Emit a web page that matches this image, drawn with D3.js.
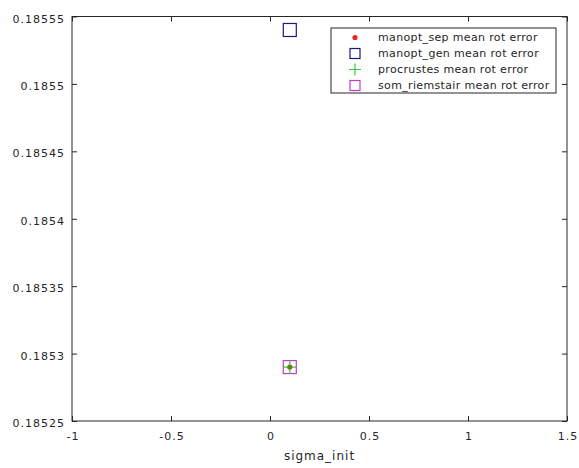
<!DOCTYPE html>
<html>
<head>
<meta charset="utf-8">
<script src="https://cdn.jsdelivr.net/npm/d3@7"></script>
<style>
  html, body { margin: 0; padding: 0; background: #fff; }
  text { font-family: "DejaVu Sans", sans-serif; fill: #262626; }
</style>
</head>
<body>
<svg id="chart" width="579" height="468"></svg>
<script>
// Mean rotation error per method at sigma_init
const sigmaInit = [0.1];
const manoptSep = [0.18529];
const manoptGen = [0.18554];
const procrustes = [0.18529];
const somRiemstair = [0.18529];

const xTicks = [-1, -0.5, 0, 0.5, 1, 1.5];
const yTicks = [0.18525, 0.1853, 0.18535, 0.1854, 0.18545, 0.1855, 0.18555];

const legendLabels = [
  "manopt_sep mean rot error",
  "manopt_gen mean rot error",
  "procrustes mean rot error",
  "som_riemstair mean rot error"
];

const svg = d3.select("#chart");
const m = { left: 72, right: 12, top: 16.5, bottom: 47 };
const W = 579, H = 468;
const x = d3.scaleLinear().domain([-1, 1.5]).range([m.left, W - m.right]);
const y = d3.scaleLinear().domain([0.18525, 0.18555]).range([H - m.bottom, m.top]);

const axisColor = "#262626";
const tickLen = 5;
const fmt = d => String(d);

// frame
svg.append("rect")
  .attr("x", x(-1)).attr("y", y(0.18555))
  .attr("width", x(1.5) - x(-1)).attr("height", y(0.18525) - y(0.18555))
  .attr("fill", "none").attr("stroke", axisColor).attr("stroke-width", 1);

// axes with inward ticks on all four sides
const xAxis = svg.append("g").attr("transform", `translate(0,${y(0.18525)})`)
  .call(d3.axisBottom(x).tickValues(xTicks).tickSize(-tickLen).tickPadding(11).tickFormat(fmt));
const xAxisTop = svg.append("g").attr("transform", `translate(0,${y(0.18555)})`)
  .call(d3.axisTop(x).tickValues(xTicks).tickSize(-tickLen).tickFormat(""));
const yAxis = svg.append("g").attr("transform", `translate(${x(-1)},0)`)
  .call(d3.axisLeft(y).tickValues(yTicks).tickSize(-tickLen).tickPadding(7).tickFormat(fmt));
const yAxisRight = svg.append("g").attr("transform", `translate(${x(1.5)},0)`)
  .call(d3.axisRight(y).tickValues(yTicks).tickSize(-tickLen).tickFormat(""));

[xAxis, xAxisTop, yAxis, yAxisRight].forEach(g => {
  g.select(".domain").remove();
  g.selectAll(".tick line").attr("stroke", axisColor);
  g.selectAll("text").attr("font-family", "DejaVu Sans, sans-serif")
    .attr("font-size", 11).attr("letter-spacing", 1).attr("fill", "#333");
});
xAxis.selectAll("text").attr("dy", "0.71em").attr("dx", "0.5");
yAxis.selectAll("text").attr("dy", "0.5em");

svg.append("text")
  .attr("x", (x(-1) + x(1.5)) / 2).attr("y", 460)
  .attr("text-anchor", "middle").attr("font-size", 12).attr("letter-spacing", 1)
  .attr("fill", "#333")
  .text("sigma_init");

// marker drawers
const sq = 13;
function drawSquare(g, cx, cy, color) {
  g.append("rect").attr("x", cx - sq / 2).attr("y", cy - sq / 2)
    .attr("width", sq).attr("height", sq)
    .attr("fill", "none").attr("stroke", color).attr("stroke-width", 1.2);
}
function drawPlus(g, cx, cy, color) {
  const h = 6.5;
  g.append("path").attr("d", `M${cx - h},${cy}H${cx + h}M${cx},${cy - h}V${cy + h}`)
    .attr("stroke", color).attr("stroke-width", 1.2).attr("fill", "none");
}
function drawDot(g, cx, cy, color) {
  g.append("circle").attr("cx", cx).attr("cy", cy).attr("r", 2.6).attr("fill", color);
}

const cNavy = "#1a1a80", cRed = "#e8281e", cGreen = "#3cc83c", cMag = "#c43cc4", cOlive = "#6b7d1a";
const marks = svg.append("g");
sigmaInit.forEach((s, i) => {
  drawSquare(marks, x(s), y(somRiemstair[i]), cMag);
  drawPlus(marks, x(s), y(procrustes[i]), cGreen);
  drawSquare(marks, x(s), y(manoptGen[i]), cNavy);
  drawDot(marks, x(s), y(manoptSep[i]), cOlive);
});

// legend
const lg = svg.append("g");
const lx = 331, ly = 28, lw = 225, lh = 65;
lg.append("rect").attr("x", lx).attr("y", ly).attr("width", lw).attr("height", lh)
  .attr("fill", "#fff").attr("stroke", axisColor).attr("stroke-width", 1);
const smallSquare = (g, cx, cy, c) => {
  g.append("rect").attr("x", cx - 5).attr("y", cy - 5).attr("width", 10).attr("height", 10)
    .attr("fill", "none").attr("stroke", c).attr("stroke-width", 1.2);
};
const drawers = [drawDot, smallSquare, (g, cx, cy, c) => {
  const h = 6;
  g.append("path").attr("d", `M${cx - h},${cy}H${cx + h}M${cx},${cy - h}V${cy + h}`)
    .attr("stroke", c).attr("stroke-width", 1.2);
}, smallSquare];
const legendColors = [cRed, cNavy, cGreen, cMag];
legendLabels.forEach((lab, i) => {
  const cy = ly + 9.5 + i * 16;
  drawers[i](lg, lx + 24, cy, legendColors[i]);
  lg.append("text").attr("x", lx + 47).attr("y", cy).attr("dy", "0.35em")
    .attr("font-size", 11).attr("letter-spacing", 0.35).attr("fill", "#333").text(lab);
});
</script>
</body>
</html>
